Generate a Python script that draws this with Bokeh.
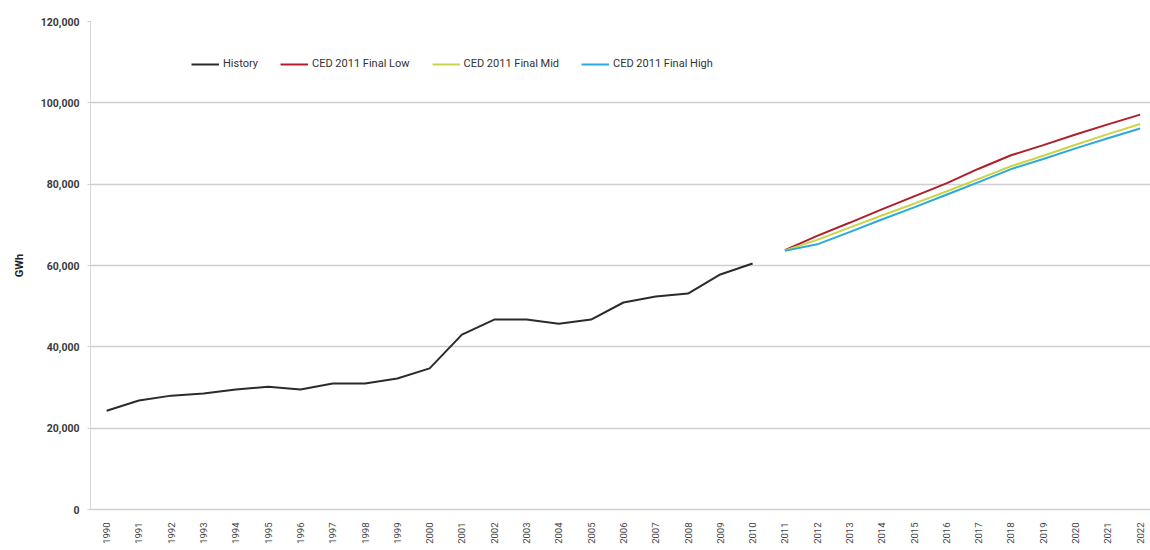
from bokeh.plotting import figure
from bokeh.models import Range1d, FixedTicker, Legend, LegendItem, NumeralTickFormatter
from bokeh.embed import file_html
from bokeh.resources import INLINE
import math

hist_years = list(range(1990, 2011))
history = [24300, 26800, 28000, 28500, 29500, 30200, 29500, 31000, 31000, 32200,
           34700, 43000, 46700, 46700, 45700, 46700, 50900, 52400, 53100, 57800, 60500]

fc_years = list(range(2011, 2023))
low = [63800, 67300, 70500, 73800, 77000, 80200, 83800, 87100, 89600, 92200, 94700, 97100]
mid = [63700, 66300, 69300, 72300, 75200, 78200, 81300, 84400, 87000, 89700, 92300, 94800]
high = [63600, 65200, 68200, 71300, 74300, 77400, 80500, 83700, 86200, 88800, 91300, 93700]

y_ticks = [0, 20000, 40000, 60000, 80000, 100000, 120000]
x_ticks = list(range(1990, 2023))

FONT = "Roboto"

p = figure(width=1150, height=550, output_backend="svg", toolbar_location=None,
           x_range=Range1d(1989.5, 2022.32), y_range=Range1d(0, 120000),
           min_border_left=90, min_border_right=0, min_border_top=21, min_border_bottom=41)
p.outline_line_color = None
p.background_fill_color = "white"

p.xgrid.grid_line_color = None
p.ygrid.grid_line_color = "#cfcfcf"
p.ygrid.grid_line_width = 1.5
p.ygrid.ticker = FixedTicker(ticks=y_ticks)

p.yaxis.ticker = FixedTicker(ticks=y_ticks)
p.yaxis.formatter = NumeralTickFormatter(format="0,0")
p.yaxis.axis_line_color = "#d8d8d8"
p.yaxis.major_tick_line_color = "#cfcfcf"
p.yaxis.major_tick_out = 3
p.yaxis.major_tick_in = 0
p.yaxis.minor_tick_line_color = None
p.yaxis.major_label_text_font = FONT
p.yaxis.major_label_text_font_style = "bold"
p.yaxis.major_label_text_font_size = "10.5px"
p.yaxis.major_label_text_color = "#3a3a3a"
p.yaxis.major_label_standoff = 8
p.yaxis.axis_label = "GWh"
p.yaxis.axis_label_text_font = FONT
p.yaxis.axis_label_text_font_style = "bold"
p.yaxis.axis_label_text_font_size = "11px"
p.yaxis.axis_label_text_color = "#222222"
p.yaxis.axis_label_standoff = 12

p.xaxis.ticker = FixedTicker(ticks=x_ticks)
p.xaxis.axis_line_color = "#cfcfcf"
p.xaxis.axis_line_width = 1.5
p.xaxis.major_tick_line_color = None
p.xaxis.minor_tick_line_color = None
p.xaxis.major_label_orientation = math.pi / 2
p.xaxis.major_label_text_font = FONT
p.xaxis.major_label_text_font_size = "9.5px"
p.xaxis.major_label_text_color = "#444444"
p.xaxis.major_label_standoff = 7

r_hist = p.line(hist_years, history, line_color="#2b2b2b", line_width=2)
r_low = p.line(fc_years, low, line_color="#b01e2a", line_width=2)
r_mid = p.line(fc_years, mid, line_color="#c9d447", line_width=2)
r_high = p.line(fc_years, high, line_color="#2aa9dc", line_width=2)

legend = Legend(items=[
    LegendItem(label="History", renderers=[r_hist]),
    LegendItem(label="CED 2011 Final Low", renderers=[r_low]),
    LegendItem(label="CED 2011 Final Mid", renderers=[r_mid]),
    LegendItem(label="CED 2011 Final High", renderers=[r_high]),
], orientation="horizontal", location=(101, 439))
legend.border_line_color = None
legend.background_fill_alpha = 0
legend.label_text_font = FONT
legend.label_text_font_size = "11px"
legend.label_text_color = "#333333"
legend.glyph_width = 28
legend.glyph_height = 12
legend.label_standoff = 4
legend.spacing = 22
legend.padding = 2
legend.margin = 0
p.add_layout(legend, "center")

open("out.html", "w").write(file_html(p, INLINE))
